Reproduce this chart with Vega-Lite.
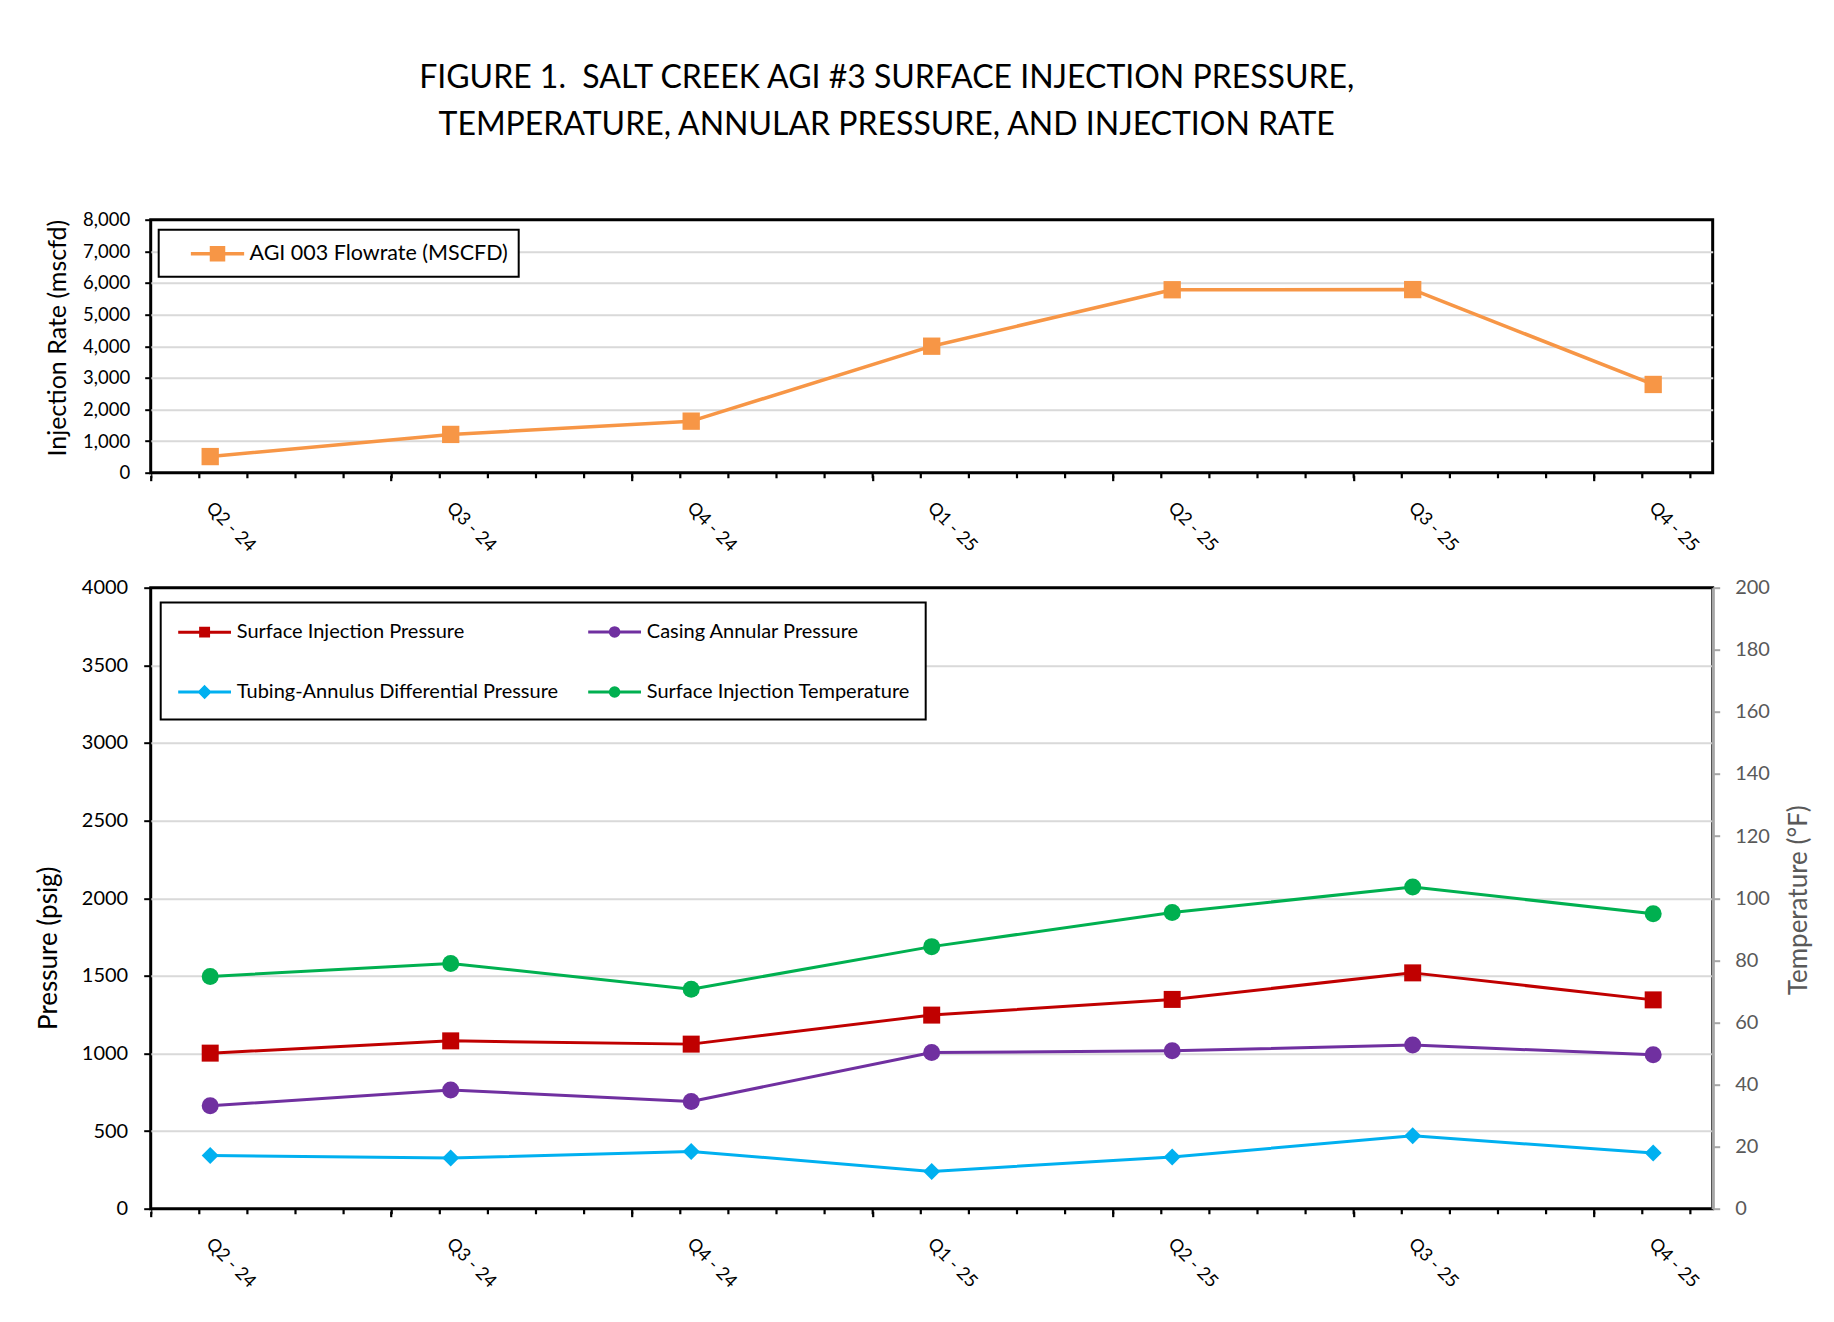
{
  "$schema": "https://vega.github.io/schema/vega-lite/v6.json",
  "background": "white",
  "padding": {"left": 33.7, "top": 61.7, "right": 10, "bottom": 10},
  "title": {
    "text": ["FIGURE 1.\u00a0 SALT CREEK AGI #3 SURFACE INJECTION PRESSURE,", "TEMPERATURE, ANNULAR PRESSURE, AND INJECTION RATE"],
    "font": "Lato", "fontSize": 32, "fontWeight": "normal", "color": "black",
    "lineHeight": 47.5, "anchor": "middle", "offset": 66.7, "dx": -37
  },
  "spacing": 19,
  "resolve": {"scale": {"color": "independent"}, "legend": {"color": "independent"}},
  "config": {
    "view": {"stroke": "black", "strokeWidth": 3},
    "font": "Lato",
    "axis": {"labelFont": "Lato", "titleFont": "Lato", "titleFontWeight": "normal", "labelColor": "black", "titleColor": "black"},
    "legend": {"labelFont": "Lato", "strokeColor": "black", "strokeWidth": 2, "fillColor": "white", "labelColor": "black", "labelLimit": 600}
  },
  "vconcat": [
    {
      "width": 1562,
      "height": 253,
      "data": {"values": [
        {"quarter": "Q2 - 24", "series": "AGI 003 Flowrate (MSCFD)", "value": 510},
        {"quarter": "Q3 - 24", "series": "AGI 003 Flowrate (MSCFD)", "value": 1210},
        {"quarter": "Q4 - 24", "series": "AGI 003 Flowrate (MSCFD)", "value": 1630},
        {"quarter": "Q1 - 25", "series": "AGI 003 Flowrate (MSCFD)", "value": 4000},
        {"quarter": "Q2 - 25", "series": "AGI 003 Flowrate (MSCFD)", "value": 5785},
        {"quarter": "Q3 - 25", "series": "AGI 003 Flowrate (MSCFD)", "value": 5790},
        {"quarter": "Q4 - 25", "series": "AGI 003 Flowrate (MSCFD)", "value": 2790}
      ]},
      "encoding": {
        "x": {
          "field": "quarter", "type": "nominal", "sort": null,
          "scale": {"type": "point", "padding": 0.2474},
          "axis": {
            "title": null, "labelAngle": 45, "labelFontSize": 18, "labelPadding": 18,
            "tickOffset": -59.5, "labelOffset": 64, "tickSize": 5.5, "tickWidth": 2.2, "tickColor": "black",
            "offset": 2.5, "domainColor": "black", "domainWidth": 5, "domainDash": [2.2, 45.9], "domainDashOffset": 1.1,
            "grid": false
          }
        },
        "y": {
          "field": "value", "type": "quantitative",
          "scale": {"domain": [0, 8000], "nice": false},
          "axis": {
            "title": "Injection Rate (mscfd)", "values": [0, 1000, 2000, 3000, 4000, 5000, 6000, 7000, 8000],
            "format": ",.0f", "labelFontSize": 18.5, "labelPadding": 15,
            "tickSize": 6, "tickWidth": 2, "tickColor": "black", "domain": false,
            "grid": true, "gridColor": "#D9D9D9", "gridWidth": 2,
            "gridOpacity": {"condition": {"test": "datum.value === 0 || datum.value === 8000", "value": 0}, "value": 1},
            "titleFontSize": 25, "titleX": -93, "titleY": 118, "titleBaseline": "middle"
          }
        },
        "color": {
          "field": "series", "type": "nominal",
          "scale": {"range": ["#F79646"]},
          "legend": {
            "title": null, "orient": "none", "legendX": 8, "legendY": 10,
            "padding": 10, "symbolOffset": 34.8, "labelOffset": 18,
            "symbolSize": 576, "symbolStrokeWidth": 3.5, "labelFontSize": 21.5,
            "encode": {"symbols": {"update": {
              "shape": {"value": "M-2.22,0H2.22M-0.5,-0.5H0.5V0.5H-0.5Z"},
              "fill": {"value": "#F79646"}, "stroke": {"value": "#F79646"},
              "strokeWidth": {"value": 3.5}, "opacity": {"value": 1}, "size": {"value": 576}
            }}}
          }
        }
      },
      "layer": [
        {"mark": {"type": "line", "strokeWidth": 3.5, "strokeJoin": "round", "strokeCap": "round"}, "encoding": {}},
        {"mark": {"type": "point", "shape": "square", "filled": true, "size": 300, "opacity": 1}, "encoding": {}}
      ]
    },
    {
      "width": 1562,
      "height": 621,
      "data": {"values": [
        {"quarter": "Q2 - 24", "series": "Surface Injection Pressure", "value": 1002},
        {"quarter": "Q3 - 24", "series": "Surface Injection Pressure", "value": 1081},
        {"quarter": "Q4 - 24", "series": "Surface Injection Pressure", "value": 1060},
        {"quarter": "Q1 - 25", "series": "Surface Injection Pressure", "value": 1247},
        {"quarter": "Q2 - 25", "series": "Surface Injection Pressure", "value": 1348},
        {"quarter": "Q3 - 25", "series": "Surface Injection Pressure", "value": 1519},
        {"quarter": "Q4 - 25", "series": "Surface Injection Pressure", "value": 1345},
        {"quarter": "Q2 - 24", "series": "Casing Annular Pressure", "value": 663},
        {"quarter": "Q3 - 24", "series": "Casing Annular Pressure", "value": 764},
        {"quarter": "Q4 - 24", "series": "Casing Annular Pressure", "value": 691},
        {"quarter": "Q1 - 25", "series": "Casing Annular Pressure", "value": 1006},
        {"quarter": "Q2 - 25", "series": "Casing Annular Pressure", "value": 1017},
        {"quarter": "Q3 - 25", "series": "Casing Annular Pressure", "value": 1054},
        {"quarter": "Q4 - 25", "series": "Casing Annular Pressure", "value": 991},
        {"quarter": "Q2 - 24", "series": "Tubing-Annulus Differential Pressure", "value": 343},
        {"quarter": "Q3 - 24", "series": "Tubing-Annulus Differential Pressure", "value": 326},
        {"quarter": "Q4 - 24", "series": "Tubing-Annulus Differential Pressure", "value": 369},
        {"quarter": "Q1 - 25", "series": "Tubing-Annulus Differential Pressure", "value": 240},
        {"quarter": "Q2 - 25", "series": "Tubing-Annulus Differential Pressure", "value": 333},
        {"quarter": "Q3 - 25", "series": "Tubing-Annulus Differential Pressure", "value": 470},
        {"quarter": "Q4 - 25", "series": "Tubing-Annulus Differential Pressure", "value": 358},
        {"quarter": "Q2 - 24", "series": "Surface Injection Temperature", "value": 74.8},
        {"quarter": "Q3 - 24", "series": "Surface Injection Temperature", "value": 79.0},
        {"quarter": "Q4 - 24", "series": "Surface Injection Temperature", "value": 70.7},
        {"quarter": "Q1 - 25", "series": "Surface Injection Temperature", "value": 84.4},
        {"quarter": "Q2 - 25", "series": "Surface Injection Temperature", "value": 95.4},
        {"quarter": "Q3 - 25", "series": "Surface Injection Temperature", "value": 103.6},
        {"quarter": "Q4 - 25", "series": "Surface Injection Temperature", "value": 95.0}
      ]},
      "encoding": {
        "x": {
          "field": "quarter", "type": "nominal", "sort": null,
          "scale": {"type": "point", "padding": 0.2474},
          "axis": {
            "title": null, "labelAngle": 45, "labelFontSize": 18, "labelPadding": 18,
            "tickOffset": -59.5, "labelOffset": 64, "tickSize": 5.5, "tickWidth": 2.2, "tickColor": "black",
            "offset": 2.5, "domainColor": "black", "domainWidth": 5, "domainDash": [2.2, 45.9], "domainDashOffset": 1.1,
            "grid": false
          }
        },
        "color": {
          "field": "series", "type": "nominal",
          "scale": {
            "domain": ["Surface Injection Pressure", "Tubing-Annulus Differential Pressure", "Casing Annular Pressure", "Surface Injection Temperature"],
            "range": ["#C00000", "#00B0F0", "#7030A0", "#00B050"]
          },
          "legend": {
            "title": null, "orient": "none", "legendX": 10, "legendY": 14.7,
            "columns": 2, "columnPadding": 22, "rowPadding": 35.6, "gridAlign": "all",
            "padding": 15.5, "symbolOffset": 14.9, "labelOffset": 18.7,
            "symbolSize": 576, "symbolStrokeWidth": 3, "labelFontSize": 20,
            "encode": {"symbols": {"update": {
              "shape": {"signal": "datum.value === 'Surface Injection Pressure' ? 'M-2.2,0H2.2M-0.33,-0.33H0.33V0.33H-0.33Z' : datum.value === 'Tubing-Annulus Differential Pressure' ? 'M-2.2,0H2.2M0,-0.42L0.42,0L0,0.42L-0.42,0Z' : 'M-2.2,0H2.2M0.36,0A0.36,0.36,0,1,1,-0.36,0A0.36,0.36,0,1,1,0.36,0Z'"},
              "fill": {"signal": "datum.value === 'Surface Injection Pressure' ? '#C00000' : datum.value === 'Casing Annular Pressure' ? '#7030A0' : datum.value === 'Tubing-Annulus Differential Pressure' ? '#00B0F0' : '#00B050'"},
              "stroke": {"signal": "datum.value === 'Surface Injection Pressure' ? '#C00000' : datum.value === 'Casing Annular Pressure' ? '#7030A0' : datum.value === 'Tubing-Annulus Differential Pressure' ? '#00B0F0' : '#00B050'"},
              "strokeWidth": {"value": 3}, "opacity": {"value": 1}, "size": {"value": 576}
            }}}
          }
        }
      },
      "layer": [
        {
          "transform": [{"filter": "datum.series !== 'Surface Injection Temperature'"}],
          "encoding": {
            "y": {
              "field": "value", "type": "quantitative",
              "scale": {"domain": [0, 4000], "nice": false},
              "axis": {
                "orient": "left", "title": "Pressure (psig)",
                "values": [0, 500, 1000, 1500, 2000, 2500, 3000, 3500, 4000],
                "format": "d", "labelFontSize": 20, "labelPadding": 16,
                "tickSize": 7, "tickWidth": 2, "tickColor": "black", "domain": false,
                "grid": true, "gridColor": "#D9D9D9", "gridWidth": 2,
                "gridOpacity": {"condition": {"test": "datum.value === 0 || datum.value === 4000", "value": 0}, "value": 1},
                "titleFontSize": 26, "titleX": -102, "titleY": 360, "titleBaseline": "middle"
              }
            }
          },
          "layer": [
            {"mark": {"type": "line", "strokeWidth": 3, "strokeJoin": "round", "strokeCap": "round"}, "encoding": {}},
            {"mark": {"type": "point", "filled": true, "size": 289, "opacity": 1},
             "encoding": {"shape": {"field": "series", "type": "nominal", "legend": null,
               "scale": {"domain": ["Surface Injection Pressure", "Tubing-Annulus Differential Pressure", "Casing Annular Pressure", "Surface Injection Temperature"],
                         "range": ["square", "diamond", "circle", "circle"]}}}}
          ]
        },
        {
          "transform": [{"filter": "datum.series === 'Surface Injection Temperature'"}],
          "encoding": {
            "y": {
              "field": "value", "type": "quantitative",
              "scale": {"domain": [0, 200], "nice": false},
              "axis": {
                "orient": "right", "title": "Temperature (°F)",
                "values": [0, 20, 40, 60, 80, 100, 120, 140, 160, 180, 200],
                "format": "d", "labelFontSize": 20, "labelPadding": 15, "labelColor": "#595959",
                "tickSize": 7, "tickWidth": 2, "tickColor": "#A6A6A6",
                "domain": true, "domainColor": "#A6A6A6", "domainWidth": 3,
                "grid": false,
                "titleFontSize": 26, "titleColor": "#595959", "titleAngle": 270,
                "titleX": 86, "titleY": 312, "titleBaseline": "middle"
              }
            }
          },
          "layer": [
            {"mark": {"type": "line", "strokeWidth": 3, "strokeJoin": "round", "strokeCap": "round"}, "encoding": {}},
            {"mark": {"type": "point", "filled": true, "size": 289, "opacity": 1},
             "encoding": {"shape": {"field": "series", "type": "nominal", "legend": null,
               "scale": {"domain": ["Surface Injection Pressure", "Tubing-Annulus Differential Pressure", "Casing Annular Pressure", "Surface Injection Temperature"],
                         "range": ["square", "diamond", "circle", "circle"]}}}}
          ]
        }
      ],
      "resolve": {"scale": {"y": "independent"}}
    }
  ]
}
